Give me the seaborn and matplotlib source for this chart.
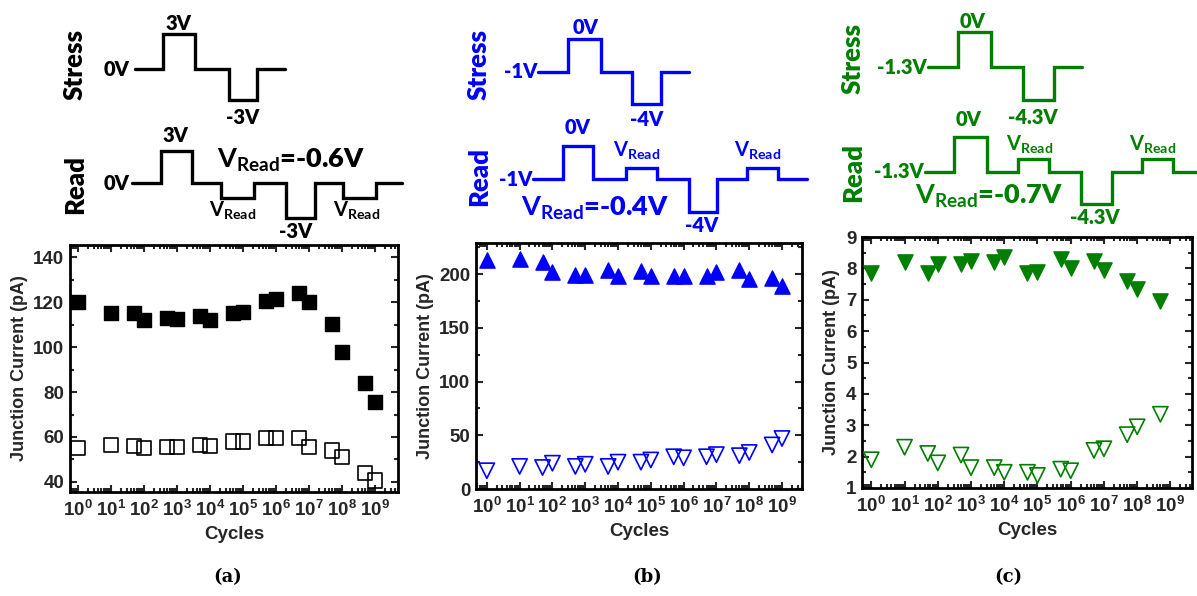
import numpy as np
import pandas as pd
import matplotlib
matplotlib.use("Agg")
import matplotlib.pyplot as plt
import seaborn as sns
from matplotlib.ticker import LogLocator, MultipleLocator, NullFormatter, FixedLocator, FixedFormatter

# ---------------- data ----------------
cycles = [1, 10, 50, 100, 500, 1e3, 5e3, 1e4, 5e4, 1e5, 5e5, 1e6, 5e6, 1e7, 5e7, 1e8, 5e8, 1e9]

a_filled = [120, 115, 115, 112, 113, 112.5, 114, 112, 115, 115.5, 120.5, 121.5, 124, 120, 110.5, 98, 84, 75.5]
a_open = [55, 56.5, 56, 55, 55.5, 55.5, 56.5, 56, 58, 58, 59.5, 59.5, 59.5, 55.5, 54, 51, 44, 40.5]

b_filled = [213, 214, 211, 202, 199.5, 199, 204, 198.5, 203, 198, 198.5, 198, 198.5, 202, 203.5, 195.5, 196, 189]
b_open = [17, 21, 20, 24, 21, 23, 21, 25, 25, 27, 30, 29, 30, 32, 31, 34, 41, 47]

c_cycles = cycles[:-1]
c_filled = [7.85, 8.2, 7.85, 8.15, 8.15, 8.25, 8.2, 8.35, 7.85, 7.9, 8.3, 8.0, 8.25, 7.95, 7.6, 7.35, 6.95]
c_open = [1.9, 2.3, 2.1, 1.8, 2.05, 1.65, 1.65, 1.5, 1.5, 1.4, 1.6, 1.55, 2.2, 2.25, 2.7, 2.95, 3.35]

xtick_exps = list(range(0, 10))

BLACK = "#000000"
BLUE = "#0000FF"
GREEN = "#007F00"

# ---------------- style ----------------
sns.set_theme(style="ticks")
plt.rcParams["font.family"] = ["Liberation Sans", "DejaVu Sans"]
plt.rcParams["font.weight"] = "bold"
plt.rcParams["mathtext.fontset"] = "custom"
plt.rcParams["mathtext.rm"] = "Liberation Sans:bold"
plt.rcParams["mathtext.it"] = "Liberation Sans:bold"
plt.rcParams["mathtext.bf"] = "Liberation Sans:bold"
plt.rcParams["mathtext.sf"] = "Lato:bold"

fig = plt.figure(figsize=(11.97, 5.96), dpi=100)

W, H = 1197, 596


def ax_rect(l, r, t, b):
    return [l / W, (H - b) / H, (r - l) / W, (b - t) / H]


panels = [
    dict(rect=ax_rect(70, 398, 245, 492), x=cycles, f=a_filled, o=a_open, c=BLACK,
         fm="s", om="s", ylim=(35.5, 145.5), yticks=[40, 60, 80, 100, 120, 140], ymin=10,
         xlim=(10 ** -0.24, 10 ** 9.7), size=110),
    dict(rect=ax_rect(476, 802, 243, 489), x=cycles, f=b_filled, o=b_open, c=BLUE,
         fm="^", om="v", ylim=(0, 229), yticks=[0, 50, 100, 150, 200], ymin=25,
         xlim=(10 ** -0.33, 10 ** 9.61), size=120),
    dict(rect=ax_rect(862, 1192, 237, 488), x=c_cycles, f=c_filled, o=c_open, c=GREEN,
         fm="v", om="v", ylim=(1, 9), yticks=list(range(1, 10)), ymin=0.5,
         xlim=(10 ** -0.28, 10 ** 9.65), size=120),
]

for p in panels:
    ax = fig.add_axes(p["rect"])
    df = pd.DataFrame({"Cycles": p["x"], "filled": p["f"], "open": p["o"]})
    sns.scatterplot(data=df, x="Cycles", y="filled", ax=ax, marker=p["fm"], s=p["size"],
                    color=p["c"], edgecolor=p["c"], linewidth=1, zorder=3)
    sns.scatterplot(data=df, x="Cycles", y="open", ax=ax, marker=p["om"], s=p["size"],
                    facecolor="none", edgecolor=p["c"], linewidth=1.2, zorder=3)
    ax.set_xscale("log")
    ax.set_xlim(*p["xlim"])
    ax.set_ylim(*p["ylim"])
    ax.xaxis.set_major_locator(FixedLocator([10.0 ** e for e in xtick_exps]))
    ax.xaxis.set_major_formatter(FixedFormatter([r"$10^{%d}$" % e for e in xtick_exps]))
    ax.xaxis.set_minor_locator(LogLocator(base=10, subs=np.arange(2, 10), numticks=30))
    ax.xaxis.set_minor_formatter(NullFormatter())
    ax.set_yticks(p["yticks"])
    ax.yaxis.set_minor_locator(MultipleLocator(p["ymin"]))
    ax.tick_params(which="both", direction="in", top=True, right=True, width=1.5)
    ax.tick_params(which="major", length=5, labelsize=13.5)
    ax.tick_params(axis="x", which="major", pad=6)
    ax.tick_params(axis="y", which="major", pad=4)
    ax.tick_params(which="minor", length=3)
    for lab in ax.get_yticklabels():
        lab.set_fontweight("bold")
    for s in ax.spines.values():
        s.set_linewidth(2)
        s.set_color("black")
    ax.set_xlabel("Cycles", fontsize=13.5, fontweight="bold", labelpad=4)
    ax.set_ylabel("Junction Current (pA)", fontsize=13, fontweight="bold", labelpad=4)
    ax.grid(False)

# ---------------- waveform schematics ----------------
ov = fig.add_axes([0, 0, 1, 1])
ov.set_xlim(0, W)
ov.set_ylim(H, 0)
ov.axis("off")

waves = [
    ([135, 163, 195, 229, 257, 285], [69, 34, 69, 100, 69, 69], BLACK),
    ([132, 161, 192, 221, 254, 286, 315, 343, 376, 402], [183, 151, 183, 198, 183, 218, 183, 198, 183, 183], BLACK),
    ([538, 568, 601, 632, 661, 689], [72, 39, 72, 104, 72, 72], BLUE),
    ([533, 563, 593, 626, 657, 689, 717, 747, 778, 807], [179, 146, 179, 168, 179, 212, 179, 168, 179, 179], BLUE),
    ([928, 958, 991, 1023, 1054, 1082], [67, 32, 67, 100, 67, 67], GREEN),
    ([925, 954, 987, 1018, 1049, 1081, 1112, 1142, 1173, 1197], [172, 137, 172, 159, 172, 204, 172, 159, 172, 172], GREEN),
]
for xs, ys, col in waves:
    ov.plot(xs, ys, drawstyle="steps-post", color=col, lw=2.4, solid_joinstyle="miter")

LF = ["Lato", "DejaVu Sans"]
VR = r"$\mathsf{V}_{\mathsf{Read}}$"


def t(x, y, s, col, size=14.5, ha="center", va="center", rot=0):
    ov.text(x, y, s, color=col, fontsize=size, ha=ha, va=va, rotation=rot,
            family=LF, fontweight="heavy")


BIG = 19.5
# panel a
t(75, 65, "Stress", BLACK, 18.5, rot=90)
t(75, 185, "Read", BLACK, 18.5, rot=90)
t(129, 69, "0V", BLACK, ha="right")
t(178, 24, "3V", BLACK)
t(243, 117, "-3V", BLACK)
t(129, 183, "0V", BLACK, ha="right")
t(175, 135, "3V", BLACK)
t(217, 160, VR + "=-0.6V", BLACK, BIG, ha="left")
t(233, 211, VR, BLACK)
t(296, 232, "-3V", BLACK)
t(357, 211, VR, BLACK)

# panel b
t(479, 65, "Stress", BLUE, 18.5, rot=90)
t(479, 177, "Read", BLUE, 18.5, rot=90)
t(537, 72, "-1V", BLUE, ha="right")
t(586, 27, "0V", BLUE)
t(647, 119, "-4V", BLUE)
t(532, 179, "-1V", BLUE, ha="right")
t(578, 128, "0V", BLUE)
t(637, 151, VR, BLUE)
t(702, 226, "-4V", BLUE)
t(758, 151, VR, BLUE)
t(521, 208, VR + "=-0.4V", BLUE, BIG, ha="left")

# panel c
t(853, 58, "Stress", GREEN, 18.5, rot=90)
t(853, 172, "Read", GREEN, 18.5, rot=90)
t(927, 67, "-1.3V", GREEN, ha="right")
t(973, 21, "0V", GREEN)
t(1033, 117, "-4.3V", GREEN)
t(924, 172, "-1.3V", GREEN, ha="right")
t(969, 119, "0V", GREEN)
t(1030, 145, VR, GREEN)
t(1095, 217, "-4.3V", GREEN)
t(1153, 145, VR, GREEN)
t(915, 196, VR + "=-0.7V", GREEN, BIG, ha="left")

# captions
for x, s in [(228, "(a)"), (647, "(b)"), (1008, "(c)")]:
    ov.text(x, 577, s, fontsize=13, ha="center", va="center", family=["DejaVu Serif"],
            fontweight="bold", color="black")

fig.savefig("out.png", dpi=100)
